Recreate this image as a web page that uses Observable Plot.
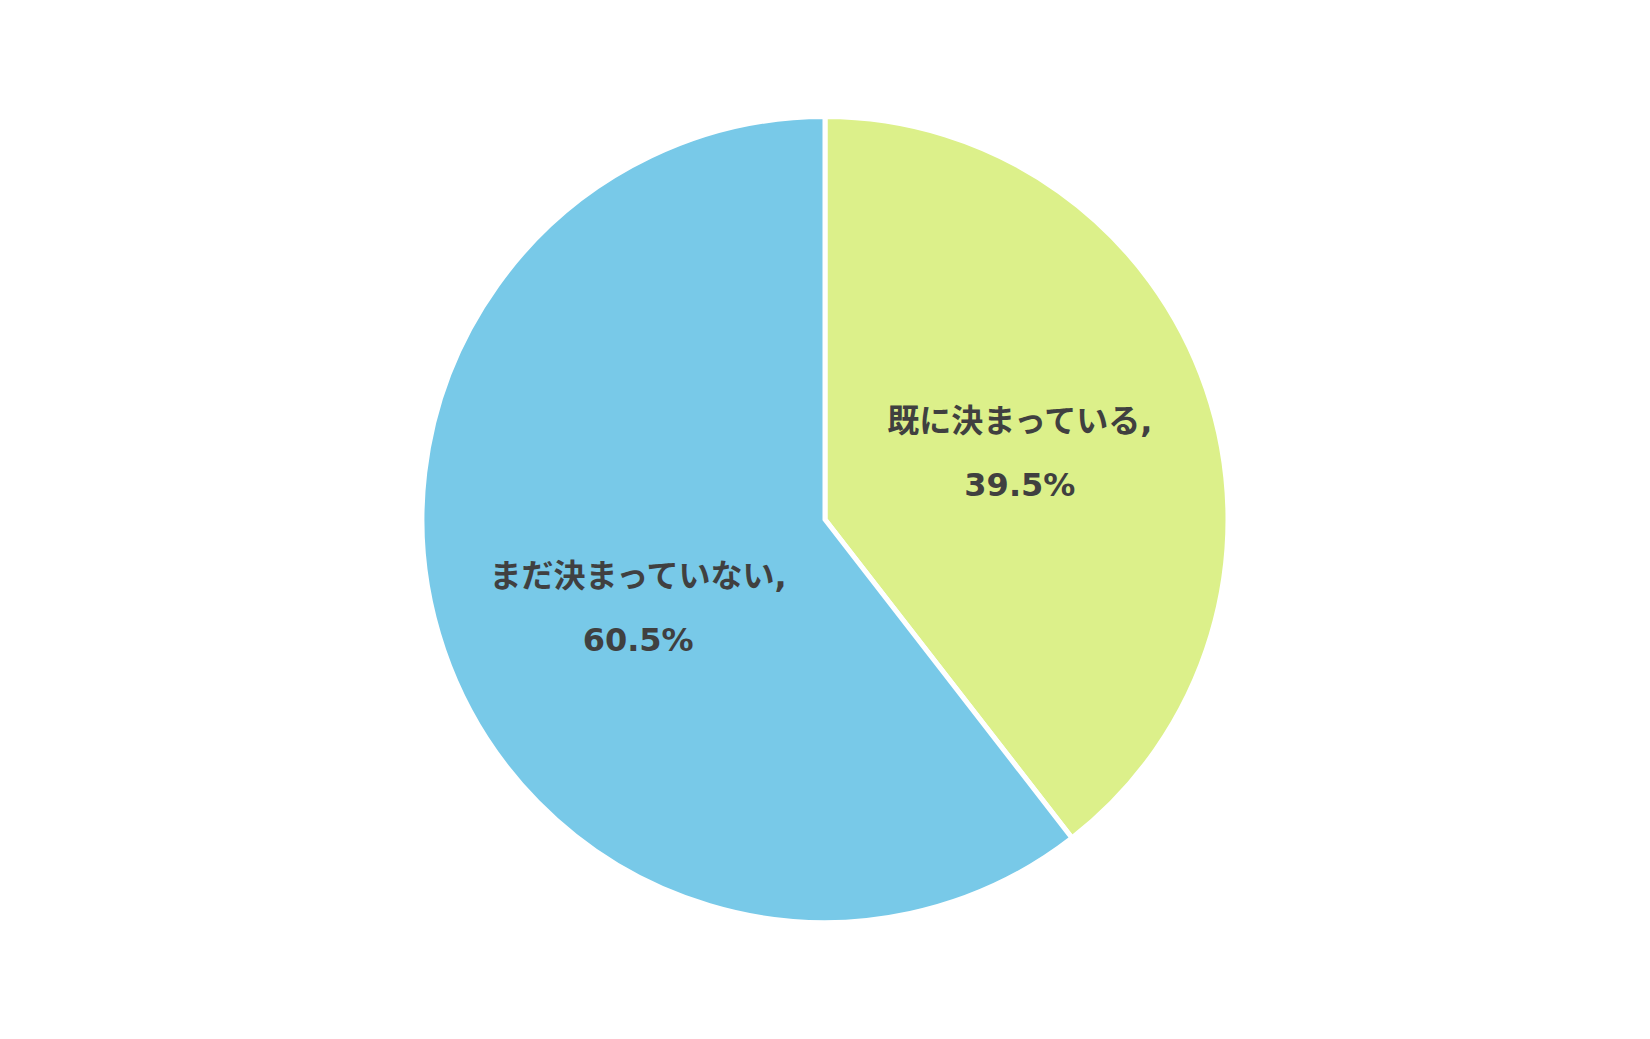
<!DOCTYPE html>
<html>
<head>
<meta charset="utf-8">
<script src="https://cdn.jsdelivr.net/npm/d3@7"></script>
<script src="https://cdn.jsdelivr.net/npm/@observablehq/plot@0.6"></script>
<style>
  html, body { margin: 0; padding: 0; background: #ffffff; }
  #chart svg { display: block; }
</style>
</head>
<body>
<div id="chart"></div>
<script>
// Data
const categories = ["既に決まっている", "まだ決まっていない"];
const values = [39.5, 60.5];
const sliceColors = ["#DCF08A", "#78C9E8"];

const rows = categories.map((c, i) => ({ category: c, value: values[i] }));
const color = d3.scaleOrdinal(categories, sliceColors);

const pie = d3.pie().sort(null).value(d => d.value);
const arcs = pie(rows);

const labelRadius = 0.515;
const labels = arcs.map(a => {
  const mid = (a.startAngle + a.endAngle) / 2;
  return {
    category: a.data.category,
    x: labelRadius * Math.sin(mid),
    y: labelRadius * Math.cos(mid),
    text: `${a.data.category},\n${a.data.value.toFixed(1)}%`
  };
});

const W = 1650, H = 1039;
const cx = 825, cy = 519.5, R = 403;

function pieMark(index, scales) {
  const x0 = scales.x(0), y0 = scales.y(0), r = scales.x(1) - x0;
  const arc = d3.arc().innerRadius(0).outerRadius(r);
  const g = d3.create("svg:g").attr("transform", `translate(${x0},${y0})`);
  g.selectAll("path")
    .data(arcs)
    .join("path")
    .attr("d", arc)
    .attr("fill", d => color(d.data.category))
    .attr("stroke", "#ffffff")
    .attr("stroke-width", 5);
  return g.node();
}

const textStyle = {
  text: "text",
  x: "x",
  y: "y",
  fontSize: 32,
  fontWeight: "bold",
  fill: "#404040",
  lineHeight: 2.0,
  textAnchor: "middle"
};

const chart = Plot.plot({
  width: W,
  height: H,
  margin: 0,
  style: { fontFamily: "'DejaVu Sans', 'Noto Sans CJK JP', sans-serif", background: "#ffffff" },
  x: { domain: [-1, 1], range: [cx - R, cx + R], axis: null },
  y: { domain: [-1, 1], range: [cy + R, cy - R], axis: null },
  marks: [
    pieMark,
    Plot.text(labels.filter(d => d.category === categories[0]), { ...textStyle, dx: -2, dy: -9.5 }),
    Plot.text(labels.filter(d => d.category === categories[1]), { ...textStyle, dx: 9, dy: 11 })
  ]
});

document.getElementById("chart").appendChild(chart);
</script>
</body>
</html>
